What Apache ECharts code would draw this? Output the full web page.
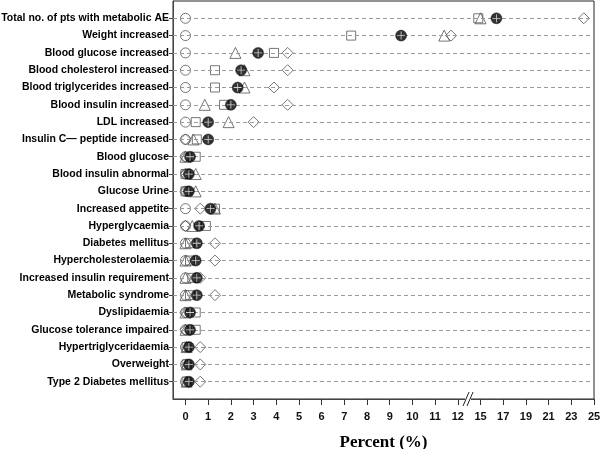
<!DOCTYPE html>
<html>
<head>
<meta charset="utf-8">
<script src="https://cdn.jsdelivr.net/npm/echarts@6/dist/echarts.min.js"></script>
<style>html,body{margin:0;padding:0;background:#fff}#c{width:600px;height:449px}</style>
</head>
<body>
<div id="c"></div>
<script>
const categories = [
  'Total no. of pts with metabolic AE','Weight increased','Blood glucose increased',
  'Blood cholesterol increased','Blood triglycerides increased','Blood insulin increased',
  'LDL increased','Insulin C\u2014 peptide increased','Blood glucose','Blood insulin abnormal',
  'Glucose Urine','Increased appetite','Hyperglycaemia','Diabetes mellitus',
  'Hypercholesterolaemia','Increased insulin requirement','Metabolic syndrome','Dyslipidaemia',
  'Glucose tolerance impaired','Hypertriglyceridaemia','Overweight','Type 2 Diabetes mellitus'
];
const circleVals   = [0,0,0,0,0,0,0,0,0,0,0,0,0,0,0,0,0,0,0,0,0,0];
const triangleVals = [15.0,11.4,2.2,2.6,2.6,0.85,1.9,0.35,0,0.45,0.45,1.3,0.3,0,0,0,0,0,0,0.05,0.05,0.05];
const squareVals   = [14.8,7.3,3.9,1.3,1.3,1.7,0.45,0.5,0.45,0,0,1.3,0.9,0.2,0.2,0.3,0.2,0.45,0.45,0.05,0.05,0.05];
const diamondVals  = [24.1,11.7,4.5,4.5,3.9,4.5,3.0,0,0,0,0,0.65,0,1.3,1.3,0.65,1.3,0,0,0.65,0.65,0.65];
const filledVals   = [16.4,9.5,3.2,2.45,2.3,2.0,1.0,1.0,0.2,0.15,0.15,1.1,0.6,0.5,0.45,0.5,0.5,0.2,0.2,0.15,0.15,0.15];
const tickLabels = ['0','1','2','3','4','5','6','7','8','9','10','11','12','15','17','19','21','23','25'];

// broken axis: 0..12 linear, then 15..25 compressed by 2
function tr(v){ return v <= 13 ? v : 13 + (v - 15) / 2; }
function pts(arr){ return arr.map((v,i)=>[tr(v), i]); }

const tickPos = tickLabels.map((_,i)=>i);
const rowPos = categories.map((_,i)=>i);
const outline = '#555';

function openSeries(name, symbol, size, vals){
  return {name, type:'scatter', symbol, symbolSize:size, data:pts(vals),
    itemStyle:{color:'rgba(0,0,0,0)', borderColor:outline, borderWidth:1}, z:3};
}

const chart = echarts.init(document.getElementById('c'), null, {renderer:'canvas'});
const option = {
  animation:false,
  grid:{left:173, right:6, top:1, bottom:50, show:true, borderColor:'#222', borderWidth:1,
    containLabel:false, outerBoundsMode:'none'},
  xAxis:{type:'value', min:-0.55, max:18,
    axisLine:{show:true, onZero:false, lineStyle:{color:'#444'}},
    axisTick:{show:true, length:6, customValues:tickPos, lineStyle:{color:'#333'}},
    axisLabel:{customValues:tickPos, margin:12, color:'#111', fontFamily:'Liberation Sans', fontWeight:'bold', fontSize:11,
      formatter:(v)=>tickLabels[Math.round(v)]},
    splitLine:{show:false},
    name:'Percent (%)', nameLocation:'middle', nameGap:35,
    nameTextStyle:{fontFamily:'Liberation Serif', fontWeight:'bold', fontSize:17, color:'#000'}
  },
  yAxis:{type:'value', inverse:true, min:-1, max:22,
    axisLine:{show:true, onZero:false, lineStyle:{color:'#444'}},
    axisTick:{show:true, length:4, customValues:rowPos, lineStyle:{color:'#444'}},
    axisLabel:{customValues:rowPos, margin:4, color:'#000', fontFamily:'Liberation Sans', fontWeight:'bold', fontSize:10.5,
      formatter:(v)=>categories[Math.round(v)]},
    splitLine:{show:false}
  },
  series:[
    {type:'scatter', data:pts(circleVals), symbol:'circle', symbolSize:10,
      itemStyle:{color:'rgba(0,0,0,0)', borderColor:outline, borderWidth:1}, z:2,
      markLine:{silent:true, symbol:['none','none'], label:{show:false}, animation:false,
        lineStyle:{type:[4,3], color:'#9a9a9a', width:1},
        data:rowPos.map(i=>({yAxis:i}))}},
    openSeries('square','rect',9,squareVals),
    openSeries('triangle','triangle',11,triangleVals),
    openSeries('diamond','diamond',11,diamondVals),
    {type:'scatter', data:pts(filledVals), symbol:'circle', symbolSize:11,
      itemStyle:{color:'#000', borderColor:'#000', borderWidth:0.5}, z:5},
    {type:'scatter', data:pts(filledVals), symbol:'path://M0,3.6L8,3.6L8,4.4L0,4.4Z M3.6,0L4.4,0L4.4,8L3.6,8Z',
      symbolSize:8, itemStyle:{color:'#fff'}, z:6, silent:true}
  ]
};
chart.setOption(option);

// axis break mark
const bp = chart.convertToPixel({xAxisIndex:0, yAxisIndex:0}, [12.45, 22]);
chart.setOption({graphic:[
  {type:'rect', shape:{x:bp[0]-3, y:bp[1]-2, width:6, height:4}, style:{fill:'#fff'}, z:100},
  {type:'line', shape:{x1:bp[0]-5, y1:bp[1]+7, x2:bp[0]+1, y2:bp[1]-7}, style:{stroke:'#222', lineWidth:1}, z:101},
  {type:'line', shape:{x1:bp[0]-1, y1:bp[1]+7, x2:bp[0]+5, y2:bp[1]-7}, style:{stroke:'#222', lineWidth:1}, z:101}
]});
</script>
</body>
</html>
